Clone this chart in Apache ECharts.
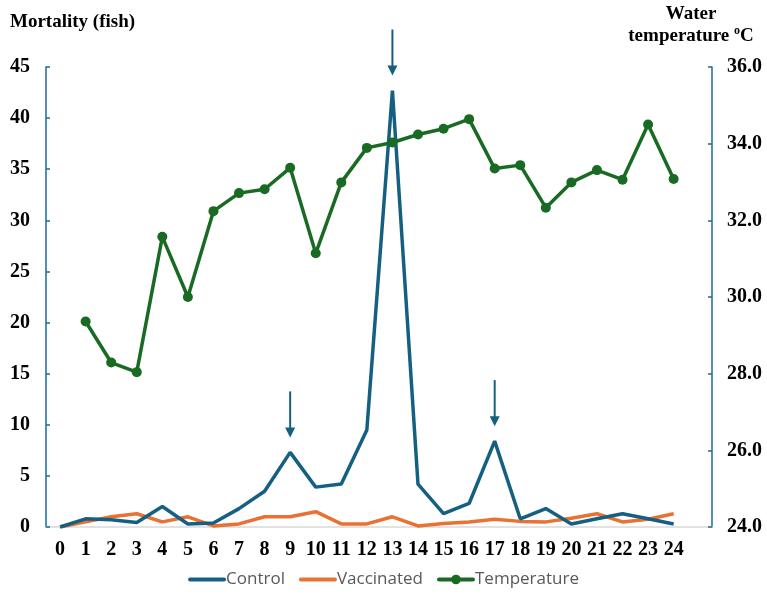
<!DOCTYPE html>
<html>
<head>
<meta charset="utf-8">
<script src="https://cdn.jsdelivr.net/npm/echarts@6/dist/echarts.min.js"></script>
<style>
html,body{margin:0;padding:0;background:#fff;}
#chart{width:767px;height:605px;}
</style>
</head>
<body>
<div id="chart"></div>
<script>
const days = [0,1,2,3,4,5,6,7,8,9,10,11,12,13,14,15,16,17,18,19,20,21,22,23,24];
const control = [0,0.8,0.7,0.45,2.0,0.3,0.4,1.8,3.5,7.3,3.9,4.2,9.5,42.7,4.2,1.3,2.3,8.4,0.8,1.8,0.3,0.8,1.3,0.8,0.3];
const vaccinated = [0,0.5,1.0,1.3,0.5,1.0,0.1,0.3,1.0,1.0,1.5,0.3,0.3,1.0,0.1,0.35,0.5,0.75,0.55,0.5,0.85,1.3,0.5,0.75,1.3];
const temperature = [null,29.36,28.29,28.04,31.57,30.0,32.24,32.71,32.81,33.37,31.14,32.99,33.89,34.03,34.24,34.39,34.64,33.35,33.44,32.33,32.99,33.31,33.06,34.5,33.08];
const mortalityTicks = [0,5,10,15,20,25,30,35,40,45];
const tempTicks = [24,26,28,30,32,34,36];
const arrowDays = [9,13,17];

const C_BLUE = '#156082', C_ORANGE = '#E97132', C_GREEN = '#196B24', C_AXIS = '#1F6A93';
const serif = '"Liberation Serif","Times New Roman",serif';
const tickFont = {fontFamily:serif, fontWeight:'bold', fontSize:20, color:'#000'};

const chart = echarts.init(document.getElementById('chart'));
const pair = arr => arr.map((v,i) => [days[i], v]);

chart.setOption({
  animation:false,
  backgroundColor:'#fff',
  title:[
    {text:'Mortality (fish)', left:5, top:8,
     textStyle:{fontFamily:serif, fontWeight:'bold', fontSize:19, color:'#000'}},
    {text:'Water\ntemperature {sup|o}C', left:686, top:-2, textAlign:'center',
     textStyle:{fontFamily:serif, fontWeight:'bold', fontSize:19, color:'#000', lineHeight:22, align:'center',
       rich:{sup:{fontFamily:serif, fontWeight:'bold', fontSize:12, verticalAlign:'top', padding:[0,0,9,0], color:'#000'}}}}
  ],
  grid:{left:46, right:55, top:67, bottom:78, containLabel:false},
  legend:{
    bottom:12, left:'center', itemWidth:34, itemHeight:12, itemGap:14,
    textStyle:{fontFamily:'"Open Sans",sans-serif', fontSize:17, color:'#595959', padding:[0,0,0,-3]},
    data:[
      {name:'Control', itemStyle:{opacity:0}, lineStyle:{width:4, cap:'round'}},
      {name:'Vaccinated', itemStyle:{opacity:0}, lineStyle:{width:4, cap:'round'}},
      {name:'Temperature', lineStyle:{width:4, cap:'round'}}
    ]
  },
  xAxis:{
    type:'value', min:-0.55, max:25.5,
    axisLine:{show:true, onZero:false, lineStyle:{color:'#D9D9D9', width:1.5}},
    axisTick:{show:false},
    splitLine:{show:false},
    axisLabel:Object.assign({customValues:days, formatter:v=>String(v), margin:13}, tickFont)
  },
  yAxis:[
    {type:'value', min:0, max:45, interval:5, position:'left',
     axisLine:{show:true, onZero:false, lineStyle:{color:C_AXIS, width:1.5}},
     axisTick:{show:true, inside:true, length:4, lineStyle:{color:C_AXIS, width:1.5}},
     splitLine:{show:false},
     axisLabel:Object.assign({margin:16, customValues:mortalityTicks}, tickFont)},
    {type:'value', min:24, max:36, interval:2, position:'right',
     axisLine:{show:true, onZero:false, lineStyle:{color:C_AXIS, width:1.5}},
     axisTick:{show:true, inside:true, length:4, lineStyle:{color:C_AXIS, width:1.5}},
     splitLine:{show:false},
     axisLabel:Object.assign({margin:15, customValues:tempTicks, formatter:v=>v.toFixed(1)}, tickFont)}
  ],
  series:[
    {name:'Control', type:'line', yAxisIndex:0, data:pair(control), symbol:'none',
     lineStyle:{color:C_BLUE, width:3.5}, itemStyle:{color:C_BLUE}, z:3},
    {name:'Vaccinated', type:'line', yAxisIndex:0, data:pair(vaccinated), symbol:'none',
     lineStyle:{color:C_ORANGE, width:3.5}, itemStyle:{color:C_ORANGE}, z:2},
    {name:'Temperature', type:'line', yAxisIndex:1, data:pair(temperature), symbol:'circle', symbolSize:10,
     lineStyle:{color:C_GREEN, width:3.5}, itemStyle:{color:C_GREEN}, z:4}
  ]
});

// Arrows pointing at the Control peaks, placed through the chart's own scales
const graphics = [];
arrowDays.forEach(d => {
  const p = chart.convertToPixel({seriesIndex:0}, [d, control[days.indexOf(d)]]);
  const tip = p[1] - 15, top = p[1] - 61;
  graphics.push({type:'line', shape:{x1:p[0], y1:top, x2:p[0], y2:tip-8}, style:{stroke:C_BLUE, lineWidth:2}, z:10});
  graphics.push({type:'polygon', shape:{points:[[p[0]-5, tip-10],[p[0]+5, tip-10],[p[0], tip]]}, style:{fill:C_BLUE}, z:10});
});
chart.setOption({graphic:graphics});
</script>
</body>
</html>
